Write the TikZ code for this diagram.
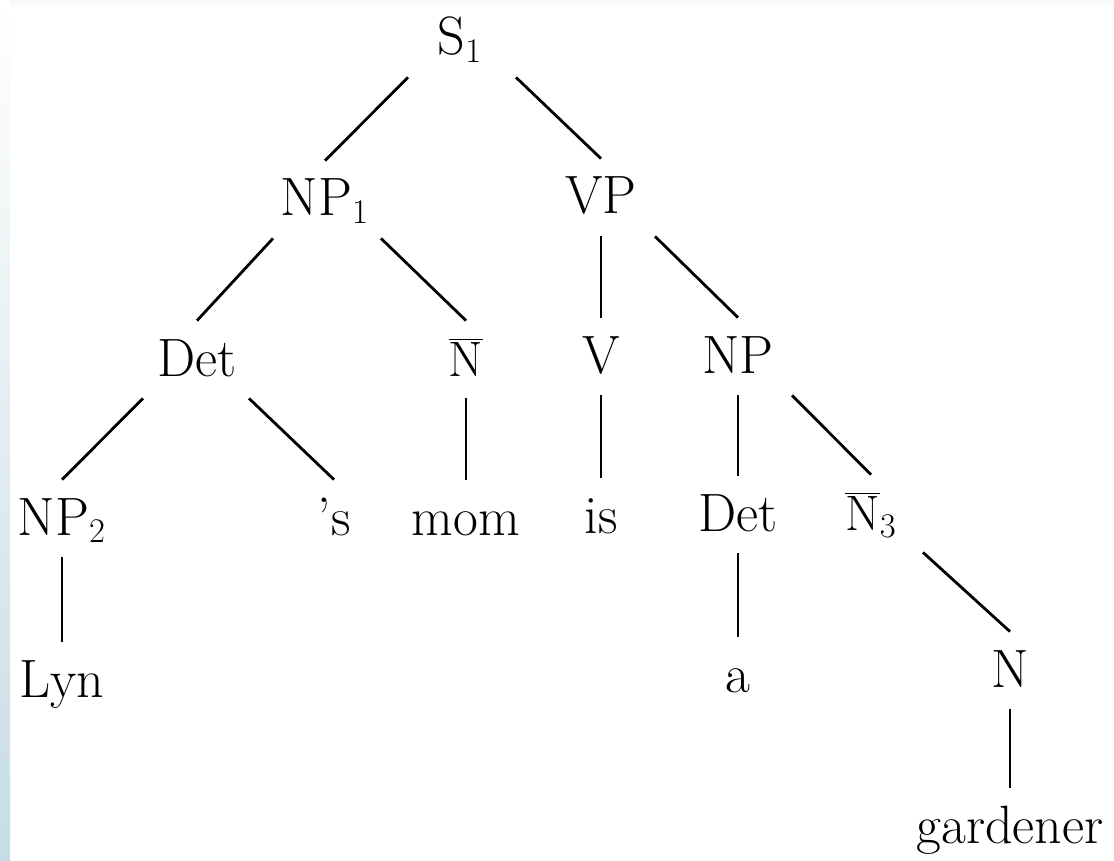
\documentclass[tikz,border=0pt]{standalone}
\usepackage{tikz}
\definecolor{scanedge}{HTML}{C6DCE4}
\tikzset{
  cat/.style={
    anchor=base,
    inner xsep=2pt,
    inner ysep=3pt,
    text height=24.5pt,
    text depth=8pt,
    font=\fontsize{27}{30}\selectfont
  }
}
\tikzset{
  branch/.style={
    draw=black,
    line width=1.4pt
  }
}
\def\bar#1{$\overline{\mathrm{#1}}$}

\begin{document}
\begin{tikzpicture}[x=0.5pt, y=-0.5pt]
    \useasboundingbox (0,0) rectangle (1114,861);
    % scan edge
    \shade[top color=white, bottom color=scanedge] (0,0) rectangle (10,861);
    \fill[scanedge!15] (10,0) rectangle (1114,5);
    % categories and words
    \node[cat] (s1) at (460, 55) {S$_1$};
    \node[cat] (np1) at (325, 216) {NP$_1$};
    \node[cat] (vp) at (601, 214) {VP};
    \node[cat] (det1) at (197, 376) {Det};
    \node[cat] (nbar1) at (466, 376) {\bar{N}};
    \node[cat] (v) at (601, 373) {V};
    \node[cat] (np) at (738, 373) {NP};
    \node[cat] (np2) at (62, 535) {NP$_2$};
    \node[cat] (poss) at (334, 535) {'s};
    \node[cat] (mom) at (466, 535) {mom};
    \node[cat] (is) at (601, 533) {is};
    \node[cat] (det2) at (738, 531) {Det};
    \node[cat] (nbar3) at (871, 530) {\bar{N}$_3$};
    \node[cat] (lyn) at (62, 697) {Lyn};
    \node[cat] (a) at (738, 692) {a};
    \node[cat] (n) at (1010, 687) {N};
    \node[cat] (gardener) at (1010, 843) {gardener};
    % branches
    \draw[branch] ([xshift=-26pt]s1.south) -- (np1.north);
    \draw[branch] ([xshift=28pt]s1.south) -- (vp.north);
    \draw[branch] ([xshift=-26pt]np1.south) -- (det1.north);
    \draw[branch] ([xshift=28pt]np1.south) -- (nbar1.north);
    \draw[branch] (vp.south) -- (v.north);
    \draw[branch] ([xshift=27pt]vp.south) -- (np.north);
    \draw[branch] ([xshift=-27pt]det1.south) -- (np2.north);
    \draw[branch] ([xshift=26pt]det1.south) -- (poss.north);
    \draw[branch] (nbar1.south) -- (mom.north);
    \draw[branch] (v.south) -- (is.north);
    \draw[branch] (np.south) -- (det2.north);
    \draw[branch] ([xshift=27pt]np.south) -- (nbar3.north);
    \draw[branch] (np2.south) -- (lyn.north);
    \draw[branch] (det2.south) -- (a.north);
    \draw[branch] ([xshift=26pt]nbar3.south) -- (n.north);
    \draw[branch] (n.south) -- (gardener.north);
\end{tikzpicture}
\end{document}
